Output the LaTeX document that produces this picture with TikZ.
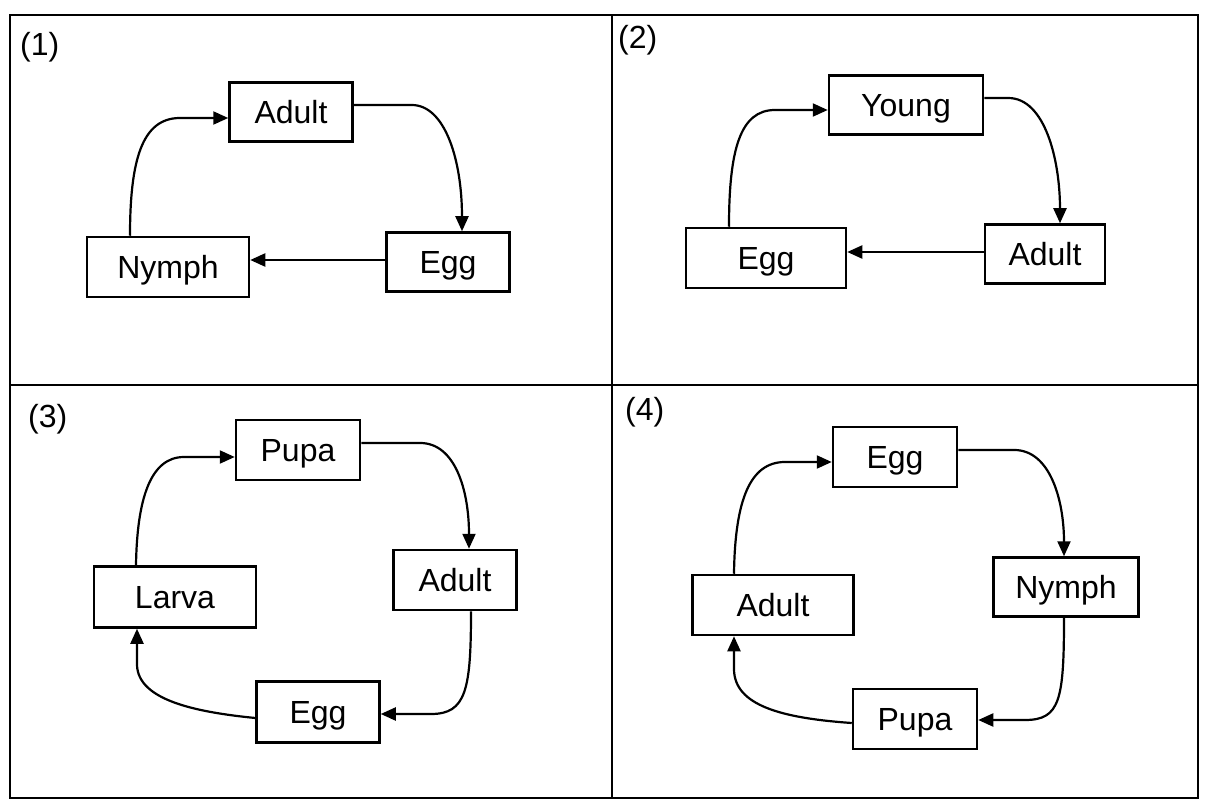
\documentclass[tikz,border=0pt]{standalone}
\usepackage{fontspec}
\setmainfont{Liberation Sans}
\usetikzlibrary{arrows.meta}
\begin{document}
\begin{tikzpicture}[x=1pt,y=-1pt,
 box/.style={draw,line width=2.5pt,inner sep=0pt,text height=23pt,text depth=0pt,font=\fontsize{32}{38}\selectfont},
 conn/.style={line width=2.2pt,-{Triangle[length=15pt,width=13pt]}},
 lab/.style={font=\fontsize{32}{38}\selectfont,anchor=north west,inner sep=0pt},
 frame/.style={line width=2.2pt}]
\useasboundingbox (0,0) rectangle (1211,805);
\draw[frame] (10,15) rectangle (1198,798);
\draw[frame] (612,15) -- (612,798);
\draw[frame] (10,385) -- (1198,385);
% labels
\node[lab] (l1) at (20,32) {(1)};
\node[lab] (l2) at (618,25) {(2)};
\node[lab] (l3) at (28,404) {(3)};
\node[lab] (l4) at (625,397) {(4)};
% panel 1
\node[box,minimum width=123pt,minimum height=59pt] (a1) at (291,112) {Adult};
\node[box,minimum width=162pt,minimum height=60pt] (n1) at (168,267) {Nymph};
\node[box,minimum width=123pt,minimum height=59pt] (e1) at (448,262) {Egg};
\draw[conn] ([yshift=7pt]a1.east) -- ++(58,0) .. controls (445,105) and (462,160) .. ([xshift=14pt]e1.north);
\draw[conn] ([yshift=2pt]e1.west) -- ([yshift=7pt]n1.east);
\draw[conn] ([xshift=-38pt]n1.north) .. controls (130,160) and (142,118) .. (180,118) -- ([yshift=-6pt]a1.west);
% panel 2
\node[box,minimum width=154pt,minimum height=59pt] (y2) at (906,105) {Young};
\node[box,minimum width=160pt,minimum height=60pt] (e2) at (766,258) {Egg};
\node[box,minimum width=120pt,minimum height=59pt] (d2) at (1045,254) {Adult};
\draw[conn] ([yshift=7pt]y2.east) -- ++(24,0) .. controls (1045,98) and (1060,160) .. ([xshift=15pt]d2.north);
\draw[conn] ([yshift=2pt]d2.west) -- ([yshift=6pt]e2.east);
\draw[conn] ([xshift=-37pt]e2.north) .. controls (729,150) and (740,110) .. (775,110) -- ([yshift=-5pt]y2.west);
% panel 3
\node[box,minimum width=124pt,minimum height=60pt] (p3) at (298,450) {Pupa};
\node[box,minimum width=162pt,minimum height=61pt] (l3b) at (175,597) {Larva};
\node[box,minimum width=123pt,minimum height=60pt] (d3) at (455,580) {Adult};
\node[box,minimum width=123pt,minimum height=61pt] (e3) at (318,712) {Egg};
\draw[conn] ([yshift=7pt]p3.east) -- ++(59,0) .. controls (455,443) and (469,490) .. ([xshift=14pt]d3.north);
\draw[conn] ([xshift=16pt]d3.south) .. controls (471,690) and (466,714) .. (431,714) -- ([yshift=-2pt]e3.east);
\draw[conn] ([yshift=-6pt]e3.west) .. controls (195,712) and (138,700) .. (137,665) -- ([xshift=-38pt]l3b.south);
\draw[conn] ([xshift=-39pt]l3b.north) .. controls (137,500) and (150,457) .. (184,457) -- ([yshift=-7pt]p3.west);
% panel 4
\node[box,minimum width=124pt,minimum height=60pt] (e4) at (895,457) {Egg};
\node[box,minimum width=145pt,minimum height=59pt] (n4) at (1066,587) {Nymph};
\node[box,minimum width=161pt,minimum height=60pt] (d4) at (773,605) {Adult};
\node[box,minimum width=124pt,minimum height=60pt] (p4) at (915,719) {Pupa};
\draw[conn] ([yshift=7pt]e4.east) -- ++(56,0) .. controls (1050,450) and (1064,500) .. ([xshift=-2pt]n4.north);
\draw[conn] ([xshift=-2pt]n4.south) .. controls (1064,700) and (1060,720) .. (1025,720) -- ([yshift=-1pt]p4.east);
\draw[conn] ([yshift=-4pt]p4.west) .. controls (780,718) and (735,705) .. (734,670) -- ([xshift=-39pt]d4.south);
\draw[conn] ([xshift=-39pt]d4.north) .. controls (735,500) and (750,462) .. (785,462) -- ([yshift=-5pt]e4.west);
\end{tikzpicture}
\end{document}
